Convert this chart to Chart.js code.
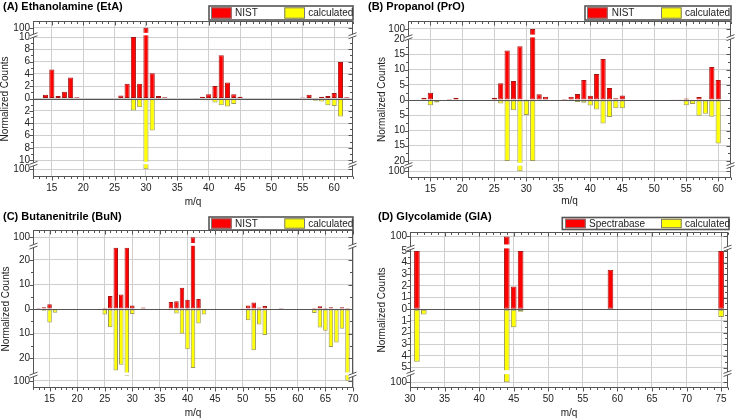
<!DOCTYPE html>
<html><head><meta charset="utf-8">
<script src="https://cdn.jsdelivr.net/npm/chart.js@4/dist/chart.umd.min.js"></script>
<style>
html,body{margin:0;padding:0;background:#fff;}
#wrap{position:relative;width:735px;height:420px;overflow:hidden;background:#fff}
.p{position:absolute}
canvas{display:block}
</style></head><body>
<div id="wrap">
<div class="p" style="left:0;top:0"><canvas id="cA" width="367" height="210"></canvas></div>
<div class="p" style="left:367px;top:0"><canvas id="cB" width="368" height="210"></canvas></div>
<div class="p" style="left:0;top:210px"><canvas id="cC" width="367" height="210"></canvas></div>
<div class="p" style="left:367px;top:210px"><canvas id="cD" width="368" height="210"></canvas></div>
</div>
<script>
// ---------- DATA (normalized counts; calculated values are plotted downward) ----------
// (A) Ethanolamine
const mzA   = [13,14,15,16,17,18,19, 26,27,28,29,30,31,32,33, 38,39,40,41,42,43,44,45, 55,56,57,58,59,60,61,62];
const nistA = [0.1,0.6,4.7,0.4,1.1,3.4,0.2, 0.5,2.4,10,2.4,100,4.1,0.4,0.2, 0.05,0.3,0.7,2.05,7.05,2.6,0.7,0.3, 0.15,0.6,0.05,0.3,0.4,0.9,5.95,0.2];
const calcA = [0,0,0,0,0,0,0, 0,0.25,1.95,1.4,100,5.2,0,0, 0,0,0,0.65,1.1,1.3,0.9,0, 0,0.2,0.35,0.5,1.1,1.2,2.9,0];
const xTicksA = [15,20,25,30,35,40,45,50,55,60];
const yTicksA = [-100,-10,-8,-6,-4,-2,0,2,4,6,8,10,100];
const yMinorA = [-9,-7,-5,-3,-1,1,3,5,7,9];

// (B) Propanol
const mzB   = [13,14,15,16,18,19, 24,25,26,27,28,29,30,31,32,33, 36,37,38,39,40,41,42,43,44,45, 53,54,55,56,57,58,59,60,61];
const nistB = [0.2,0.8,2.45,0,0.35,0.8, 0.2,0.8,5.55,16.3,6.3,17.7,0.1,100,1.9,1.1, 0.35,1.1,2.0,6.65,1.45,8.55,13.55,4.0,0.65,1.55, 0.3,0.1,0.55,0,1.0,0,10.9,6.65,0.2];
const calcB = [0,0,1.65,0.8,0,0, 0,0,1.1,20,3.3,100,4.9,20,0,0, 0,0,0.65,0.9,1.8,3.1,7.65,5.55,2.65,2.65, 0,0.2,1.65,1.3,5.1,4.45,5.45,14.3,0];
const xTicksB = [15,20,25,30,35,40,45,50,55,60];
const yTicksB = [-100,-20,-15,-10,-5,0,5,10,15,20,100];
const yMinorB = [-17.5,-12.5,-7.5,-2.5,2.5,7.5,12.5,17.5];

// (C) Butanenitrile
const mzC   = [13,14,15,16, 25,26,27,28,29,30,32, 36,37,38,39,40,41,42,43, 50,51,52,53,54,55,57, 62,63,64,65,66,67,68,69];
const nistC = [0.1,0.8,2.0,0, 0.5,5.3,25,6.0,25,1.5,0.7, 0.25,2.85,3.25,8.7,3.8,100,4.1,0, 0.4,1.5,2.7,0.7,1.25,0,0.1, 0.3,0.5,1.2,0.1,0.8,0.4,0.8,0.1];
const calcC = [0,0.7,5.4,1.5, 2.2,7.35,25,22.6,63,2.0,0, 0,0,1.75,10,16.3,24,5.85,2.2, 0,4.5,16.7,6.3,10.5,0.5,0, 0,1.6,7.5,8.85,15.4,13.6,8,100];
const xTicksC = [15,20,25,30,35,40,45,50,55,60,65,70];
const yTicksC = [-100,-20,-10,0,10,20,100];
const yMinorC = [-15,-5,5,15];

// (D) Glycolamide
const mzD   = [31,32,43,44,45,46,59,75];
const specD = [5,0,0.05,100,1.95,5,3.4,5];
const calcD = [4.5,0.45,0,100,1.55,0.2,0,0.65];
const xTicksD = [30,35,40,45,50,55,60,65,70,75];
const yTicksD = [-100,-5,-4,-3,-2,-1,0,1,2,3,4,5,100];
const yMinorD = [-4.5,-3.5,-2.5,-1.5,-0.5,0.5,1.5,2.5,3.5,4.5];

// ---------- broken-axis transform ----------
function T(v, cap, d){ const a=Math.abs(v); const t = a<=cap ? a : cap + (a-cap)/(100-cap)*d; return Math.sign(v)*t; }

const FONT = '"Liberation Sans", Arial, sans-serif';

const panelPlugin = {
  id: 'panel',
  afterDatasetsDraw(chart, args, o){
    const {ctx, chartArea: ca, scales:{y}} = chart;
    ctx.save();
    ctx.beginPath(); ctx.rect(ca.left, ca.top, ca.right-ca.left, ca.bottom-ca.top); ctx.clip();
    ctx.fillStyle = '#fff';
    [o.ref, o.calc].forEach((raw, di) => {
      const meta = chart.getDatasetMeta(di);
      const s = di===0 ? 1 : -1;
      meta.data.forEach((el, i) => {
        if (raw[i] > o.cap) {
          const p1 = y.getPixelForValue(s*(o.cap + 0.18*o.d));
          const p2 = y.getPixelForValue(s*(o.cap + 0.45*o.d));
          ctx.fillRect(el.x - el.width/2 - 1, Math.min(p1,p2), el.width + 2, Math.abs(p2-p1));
        }
      });
    });
    ctx.strokeStyle = '#555'; ctx.lineWidth = 1;
    const z = Math.round(y.getPixelForValue(0)) + 0.5;
    ctx.beginPath(); ctx.moveTo(ca.left, z); ctx.lineTo(ca.right, z); ctx.stroke();
    ctx.restore();
  },
  afterDraw(chart, args, o){
    const {ctx, chartArea: ca, scales:{x,y}} = chart;
    ctx.save();
    const L = Math.round(ca.left)+0.5, R = Math.round(ca.right)-0.5, Tp = Math.round(ca.top)+0.5, B = Math.round(ca.bottom)-0.5;
    ctx.strokeStyle = '#555'; ctx.lineWidth = 1;
    ctx.strokeRect(L, Tp, R-L, B-Tp);
    ctx.beginPath();
    for (let m = Math.ceil(o.xMin); m <= o.xMax; m++){
      const px = Math.round(x.getPixelForValue(m)) + 0.5;
      const len = (m % 5 === 0) ? 4 : 2.5;
      ctx.moveTo(px, B); ctx.lineTo(px, B+len);
      ctx.moveTo(px, Tp); ctx.lineTo(px, Tp+len);
    }
    o.yTicks.forEach(v => { const py = Math.round(y.getPixelForValue(T(v,o.cap,o.d)))+0.5; ctx.moveTo(L-4,py); ctx.lineTo(L,py); ctx.moveTo(R,py); ctx.lineTo(R-4,py); });
    o.yMinor.forEach(v => { const py = Math.round(y.getPixelForValue(T(v,o.cap,o.d)))+0.5; ctx.moveTo(L-2.5,py); ctx.lineTo(L,py); ctx.moveTo(R,py); ctx.lineTo(R-2.5,py); });
    ctx.stroke();
    // break marks
    [1,-1].forEach(s => {
      const py = y.getPixelForValue(s*(o.cap + 0.3*o.d));
      [L, R].forEach(px => {
        ctx.fillStyle = '#fff';
        ctx.beginPath();
        ctx.moveTo(px-4, py+1.5); ctx.lineTo(px+4, py-1.5); ctx.lineTo(px+4, py+1.5); ctx.lineTo(px-4, py+4.5); ctx.closePath();
        ctx.fill();
        ctx.beginPath();
        ctx.moveTo(px-4, py+1.5); ctx.lineTo(px+4, py-1.5);
        ctx.moveTo(px-4, py+4.5); ctx.lineTo(px+4, py+1.5);
        ctx.stroke();
      });
    });
    // title
    ctx.fillStyle = '#000';
    ctx.font = 'bold 11px ' + FONT;
    ctx.textBaseline = 'middle'; ctx.textAlign = 'left';
    ctx.fillText(o.title, o.titleX, o.titleY);
    // legend
    const lg = o.legend;
    ctx.fillStyle = '#fff'; ctx.strokeStyle = '#555'; ctx.lineWidth = 1.6;
    ctx.fillRect(lg.box[0], lg.box[1], lg.box[2]-lg.box[0], lg.box[3]-lg.box[1]);
    ctx.strokeRect(lg.box[0], lg.box[1], lg.box[2]-lg.box[0], lg.box[3]-lg.box[1]);
    const sy1 = lg.box[1]+1.3, sy2 = lg.box[3]-1.3;
    ctx.lineWidth = 1; ctx.strokeStyle = '#7a7a7a';
    ctx.fillStyle = '#ff0000'; ctx.fillRect(lg.s1[0], sy1, lg.s1[1]-lg.s1[0], sy2-sy1); ctx.strokeRect(lg.s1[0]+0.5, sy1+0.5, lg.s1[1]-lg.s1[0]-1, sy2-sy1-1);
    ctx.fillStyle = '#ffff00'; ctx.fillRect(lg.s2[0], sy1, lg.s2[1]-lg.s2[0], sy2-sy1); ctx.strokeRect(lg.s2[0]+0.5, sy1+0.5, lg.s2[1]-lg.s2[0]-1, sy2-sy1-1);
    ctx.fillStyle = '#222'; ctx.font = '10px ' + FONT;
    const ty = (lg.box[1]+lg.box[3])/2 + 0.5;
    ctx.fillText(o.refLabel, lg.t1, ty);
    ctx.fillText('calculated', lg.t2, ty);
    ctx.restore();
  }
};

const panels = [
  {id:'cA', title:'(A) Ethanolamine (EtA)', refLabel:'NIST', mz:mzA, ref:nistA, calc:calcA, xTicks:xTicksA, yTicks:yTicksA, yMinor:yMinorA,
   xMin:12, xMax:63, cap:10, d:1.5, yMin:-12.75, yMax:12.6, W:367, H:210, area:{l:33,r:353,t:21,b:177},
   titleX:3, titleY:7, yTitlePad:0, xTitlePad:2,
   legend:{box:[209,6,353,20], s1:[211,231.7], t1:235, s2:[284.3,305], t2:308.3}},
  {id:'cB', title:'(B) Propanol (PrO)', refLabel:'NIST', mz:mzB, ref:nistB, calc:calcB, xTicks:xTicksB, yTicks:yTicksB, yMinor:yMinorB,
   xMin:11.5, xMax:62, cap:20, d:3.4, yMin:-25.6, yMax:26, W:368, H:210, area:{l:41,r:364,t:21,b:178},
   titleX:1, titleY:7, yTitlePad:10, xTitlePad:2.3,
   legend:{box:[218,6,364,20], s1:[220,240.7], t1:244.7, s2:[294,314.7], t2:318}},
  {id:'cC', title:'(C) Butanenitrile (BuN)', refLabel:'NIST', mz:mzC, ref:nistC, calc:calcC, xTicks:xTicksC, yTicks:yTicksC, yMinor:yMinorC,
   xMin:12, xMax:70, cap:25, d:4.2, yMin:-32.1, yMax:32.2, W:367, H:210, area:{l:33,r:353,t:20,b:178},
   titleX:3, titleY:7, yTitlePad:1, xTitlePad:1,
   legend:{box:[209,7,353,20], s1:[211,231.7], t1:235, s2:[284.3,305], t2:308.3}},
  {id:'cD', title:'(D) Glycolamide (GlA)', refLabel:'Spectrabase', mz:mzD, ref:specD, calc:calcD, xTicks:xTicksD, yTicks:yTicksD, yMinor:yMinorD,
   xMin:30, xMax:76, cap:5, d:1.25, yMin:-6.75, yMax:6.63, W:368, H:210, area:{l:43,r:361,t:22,b:178},
   titleX:11, titleY:7, yTitlePad:10, xTitlePad:1,
   legend:{box:[195.3,7.5,362,19.5], s1:[198,218.7], t1:222, s2:[294,314.7], t2:318}}
];

panels.forEach(p => {
  const yPos = p.yTicks.map(v => T(v, p.cap, p.d));
  const yLab = p.yTicks.map(v => String(Math.abs(v)));
  new Chart(document.getElementById(p.id), {
    type: 'bar',
    data: {
      datasets: [
        {label: p.refLabel, data: p.mz.map((m,i) => ({x:m, y: p.ref[i] ? T(p.ref[i], p.cap, p.d) : null})),
         backgroundColor:'#ff0000', borderColor:'#a51515', borderWidth:1, borderSkipped:false, grouped:false,
         barPercentage:0.82, categoryPercentage:1},
        {label: 'calculated', data: p.mz.map((m,i) => ({x:m, y: p.calc[i] ? -T(p.calc[i], p.cap, p.d) : null})),
         backgroundColor:'#ffff00', borderColor:'#9c9c58', borderWidth:1, borderSkipped:false, grouped:false,
         barPercentage:0.82, categoryPercentage:1}
      ]
    },
    options: {
      responsive:false, animation:false, events:[],
      layout:{padding:{left:0, top:p.area.t, right:p.W - p.area.r, bottom:0}},
      plugins:{legend:{display:false}, title:{display:false}, tooltip:{enabled:false},
        panel: p},
      scales:{
        x:{type:'linear', min:p.xMin, max:p.xMax, offset:false,
           grid:{offset:false, color:'#cfcfcf', lineWidth:1, drawTicks:false},
           border:{display:false},
           afterBuildTicks: s => { s.ticks = p.xTicks.map(v => ({value:v})); },
           afterFit: s => { s.height = p.H - p.area.b; },
           ticks:{autoSkip:false, maxRotation:0, padding:5, color:'#222', font:{family:FONT, size:10}, callback:v => String(v)},
           title:{display:true, text:'m/q', color:'#222', font:{family:FONT, size:10, lineHeight:1.2}, padding:{top:0,bottom:p.xTitlePad}}},
        y:{type:'linear', min:p.yMin, max:p.yMax,
           grid:{color:'#cfcfcf', lineWidth:1, drawTicks:false},
           border:{display:false},
           afterBuildTicks: s => { s.ticks = yPos.map(v => ({value:v})); },
           afterFit: s => { s.width = p.area.l; },
           ticks:{autoSkip:false, padding:3, color:'#222', font:{family:FONT, size:10}, callback:(v,i) => yLab[i]},
           title:{display:true, text:'Normalized Counts', color:'#222', font:{family:FONT, size:10, lineHeight:1}, padding:{top:p.yTitlePad,bottom:0}}}
      }
    },
    plugins:[panelPlugin]
  });
});
</script>
</body></html>
